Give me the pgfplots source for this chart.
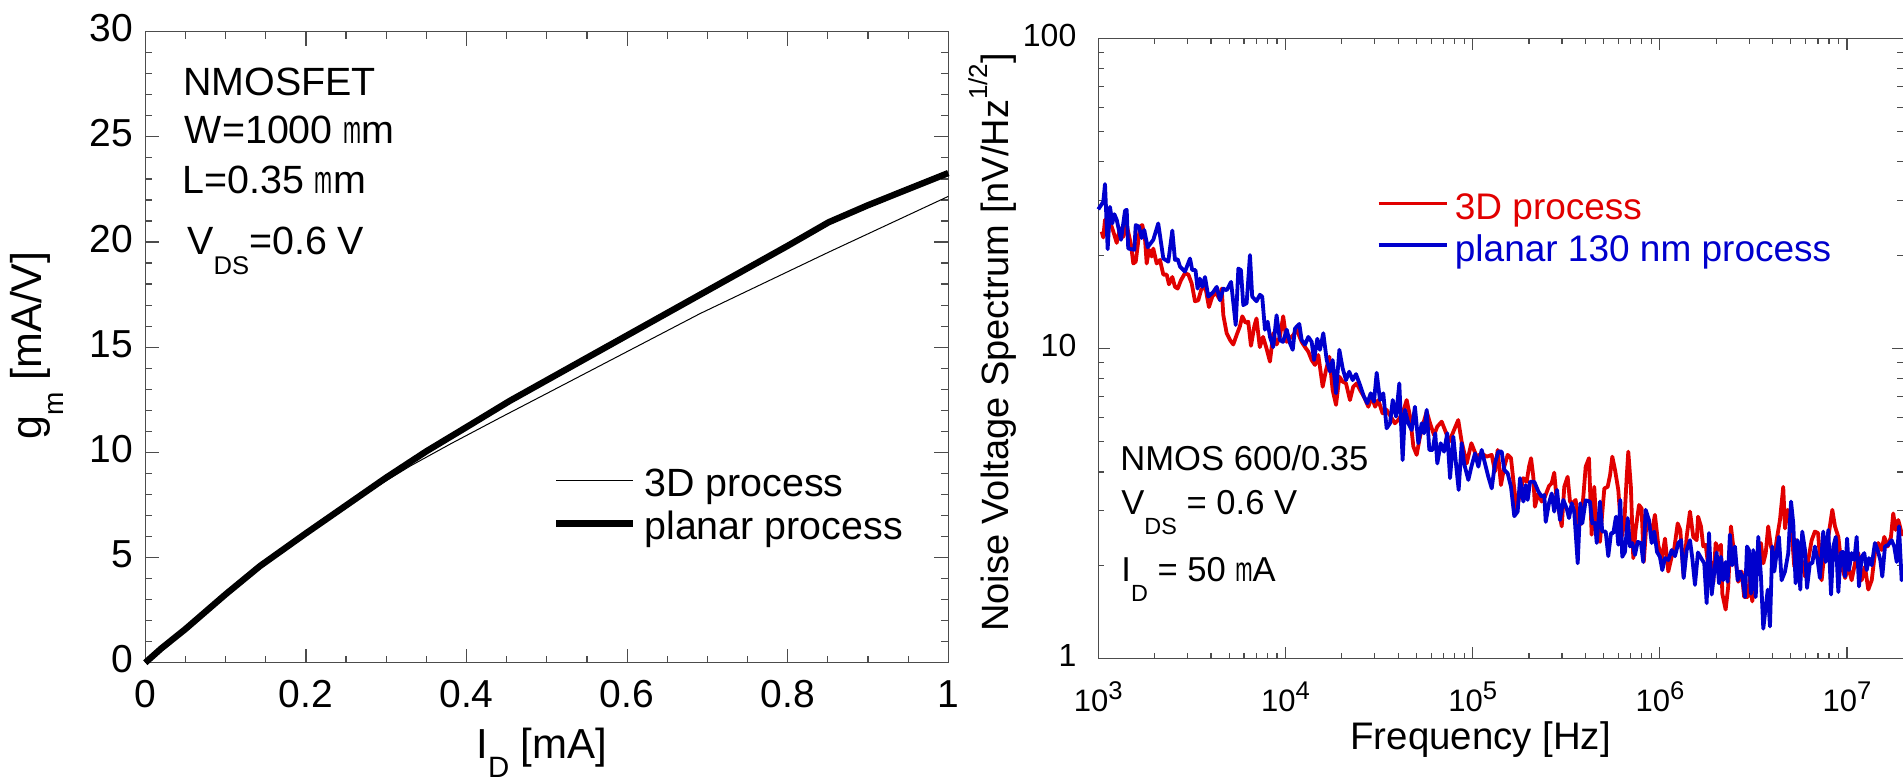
\documentclass[border=0pt]{standalone}
\usepackage{pgfplots}
\pgfplotsset{compat=1.18}
\usepackage{fontspec}
\setmainfont{Liberation Sans}
\usepackage{graphicx}
\definecolor{cred}{RGB}{225,0,0}
\definecolor{cblue}{RGB}{0,0,205}
\newcommand{\fs}[1]{\fontsize{#1}{#1}\selectfont}
\begin{document}
\begin{tikzpicture}
% ---------------- left panel ----------------
\begin{axis}[
  at={(72.65pt,59.15pt)}, anchor=south west,
  width=401.5pt, height=315.5pt, scale only axis,
  xmin=0, xmax=1, ymin=0, ymax=30, clip=false,
  xtick={0,0.2,0.4,0.6,0.8,1}, xticklabels={0,0.2,0.4,0.6,0.8,1},
  ytick={0,5,10,15,20,25,30}, yticklabels={0,5,10,15,20,25,30},
  minor x tick num=3, minor y tick num=4,
  tick align=inside, major tick length=7pt, minor tick length=3.5pt,
  axis line style={black!70, line width=0.65pt},
  every tick/.style={black!70, line width=0.6pt},
  xticklabel style={font=\fs{19.5}, inner sep=0pt, anchor=north, yshift=-8.6pt},
  yticklabel style={font=\fs{19.5}, inner sep=0pt, anchor=east, xshift=-6pt, yshift=1.7pt},
  legend style={at={(0.5077,0.245)}, anchor=west, draw=none, fill=none,
    inner sep=0pt, outer sep=0pt, font=\fs{19.7}, row sep=2.85pt, column sep=4pt,
    nodes={inner sep=0pt, text height=14.2pt, text depth=4.3pt}},
  legend cell align=left,
  legend image code/.code={\draw[#1] (0pt,3pt) -- (38.5pt,3pt);},
]
\addplot[black, line width=0.5pt, line join=round] coordinates {
(0,0) (0.05,1.57) (0.143,4.58) (0.234,7.02) (0.28,8.18) (0.33,9.35) (0.38,10.4) (0.442,11.65)
(0.5,12.8) (0.691,16.6) (0.85,19.5) (1,22.17)};
\addlegendentry{3D process}
\addplot[black, line width=3.2pt, line join=round] coordinates {
(0,0) (0.02,0.68) (0.05,1.6) (0.1,3.25) (0.143,4.6) (0.2,6.15) (0.234,7.05)
(0.3,8.8) (0.35,10.05) (0.4,11.2) (0.454,12.45) (0.6,15.56) (0.7,17.69)
(0.8,19.82) (0.851,20.94) (0.9,21.75) (1,23.28)};
\addlegendentry{planar process}
\end{axis}
% ---------------- right panel ----------------
\begin{axis}[
  at={(549.15pt,61.15pt)}, anchor=south west,
  width=402.55pt, height=310.2pt, scale only axis,
  xmode=log, ymode=log,
  xmin=1e3, xmax=2e7, ymin=1, ymax=100, clip=false,
  xtick={1e3,1e4,1e5,1e6,1e7},
  xticklabels={10\raisebox{5.85pt}{\fs{12.8}3},10\raisebox{5.85pt}{\fs{12.8}4},10\raisebox{5.85pt}{\fs{12.8}5},10\raisebox{5.85pt}{\fs{12.8}6},10\raisebox{5.85pt}{\fs{12.8}7}},
  minor xtick={2e3,3e3,4e3,5e3,6e3,7e3,8e3,9e3,2e4,3e4,4e4,5e4,6e4,7e4,8e4,9e4,2e5,3e5,4e5,5e5,6e5,7e5,8e5,9e5,2e6,3e6,4e6,5e6,6e6,7e6,8e6,9e6,2e7},
  ytick={1,10,100}, yticklabels={1,10,100},
  minor ytick={2,3,4,5,6,7,8,9,20,30,40,50,60,70,80,90},
  tick align=inside, major tick length=5.85pt, minor tick length=3pt,
  axis line style={black!70, line width=0.65pt},
  every tick/.style={black!70, line width=0.6pt},
  xticklabel style={font=\fs{15.5}, inner sep=0pt, anchor=north, yshift=-11.5pt},
  yticklabel style={font=\fs{16}, inner sep=0pt, anchor=east, xshift=-10.8pt, yshift=1.6pt},
  legend style={at={(0.3458,0.689)}, anchor=west, draw=none, fill=none,
    inner sep=0pt, outer sep=0pt, font=\fs{18.5}, row sep=3.45pt, column sep=3.2pt,
    nodes={inner sep=0pt, text height=13.3pt, text depth=4.1pt}},
  legend cell align=left,
  legend image code/.code={\draw[#1] (0pt,3.4pt) -- (34pt,3.4pt);},
]
\addplot[cred, line width=1.9pt, line join=round] coordinates {
(1043,23.8)(1063,22.8)(1086,26.0)(1122,25.0)(1155,25.6)(1203,23.8)(1254,21.9)(1306,24.4)(1360,22.9)(1418,25.0)
(1495,21.6)(1538,18.8)(1585,19.05)(1670,24.7)(1718,25.0)(1775,22.7)(1813,18.8)(1865,20.8)(1928,19.8)(1967,21.0)
(2050,18.8)(2135,19.3)(2225,17.3)(2320,17.3)(2385,16.1)(2485,17.0)(2568,15.8)(2655,15.6)(2765,16.6)(2905,17.5)
(3030,17.3)(3155,16.2)(3285,14.2)(3420,14.3)(3537,15.4)(3715,16.0)(3900,13.6)(4065,14.7)(4235,15.2)(4415,14.5)
(4560,15.6)(4655,12.8)(4850,11.2)(5055,10.65)(5260,10.3)(5480,11.05)(5710,11.8)(5875,12.7)(6125,12.1)(6325,12.2)
(6540,10.2)(6815,11.8)(7000,12.5)(7290,10.1)(7590,10.9)(7920,10.0)(8260,9.07)(8600,11.2)(8960,10.3)(9330,10.9)
(9720,12.7)(10150,10.5)(10570,10.8)(11010,11.05)(11480,11.5)(12200,10.5)(12720,10.1)(13240,9.77)(13800,9.18)(14370,8.85)
(14970,9.53)(15800,7.53)(16460,8.52)(17150,9.41)(17860,7.35)(18620,6.58)(19400,8.11)(20200,7.82)(21050,7.72)(22100,6.82)
(23000,7.53)(24000,7.72)(25000,7.35)(26260,6.99)(27700,6.49)(28900,6.99)(30100,6.49)(31300,6.82)(33000,6.18)(34700,6.34)
(36500,6.03)(38400,5.74)(40000,5.88)(42250,6.18)(44400,6.82)(46300,6.03)(48200,4.83)(50200,4.54)(52300,5.20)(54500,5.74)
(56800,6.26)(59200,5.74)(62100,5.26)(64700,5.60)(68300,5.81)(71100,5.46)(75000,5.01)(78800,5.39)(83700,5.88)(87300,5.01)
(92900,4.26)(98400,4.95)(105000,4.48)(111700,4.59)(118800,4.48)(126400,4.54)(131500,4.01)(136000,4.71)(141600,3.63)(147500,4.16)
(153800,4.54)(160200,4.43)(164800,3.77)(171800,3.02)(179000,3.41)(186500,3.82)(194300,3.72)(200000,4.16)(205000,4.43)(210800,3.86)
(215000,3.09)(224300,3.41)(233700,3.21)(243300,3.33)(255500,3.60)(264300,3.68)(272700,3.98)(281000,3.25)(292600,2.87)(299000,2.67)
(308500,3.58)(321600,3.86)(331000,3.21)(340300,3.17)(355000,3.25)(366500,2.67)(379000,2.73)(390000,3.33)(401500,4.16)(418000,4.43)
(432000,2.51)(446000,3.58)(460000,2.54)(478600,2.38)(492000,2.94)(505000,3.54)(526000,3.58)(542000,3.91)(557000,4.48)(576000,4.06)
(599600,3.50)(625000,2.47)(645500,2.73)(665000,3.86)(678000,4.65)(700000,3.58)(721000,2.11)(742000,2.60)(774000,3.13)(799000,3.05)
(820000,2.05)(850000,2.80)(874000,2.73)(904000,2.54)(941000,2.91)(980000,2.33)(1.022e6,2.08)(1.065e6,2.44)(1.109e6,1.91)(1.156e6,2.13)
(1.194e6,2.27)(1.245e6,2.73)(1.285e6,2.60)(1.34e6,1.84)(1.39e6,2.47)(1.448e6,2.98)(1.508e6,2.47)(1.573e6,2.41)(1.60e6,2.87)(1.658e6,2.67)
(1.705e6,2.30)(1.757e6,2.33)(1.814e6,1.98)(1.875e6,2.05)(1.928e6,1.75)(1.986e6,2.36)(2.05e6,2.24)(2.12e6,2.33)(2.155e6,1.62)(2.245e6,1.44)
(2.318e6,1.71)(2.397e6,2.67)(2.466e6,2.30)(2.54e6,2.08)(2.62e6,1.77)(2.735e6,1.91)(2.82e6,1.58)(2.945e6,1.58)(3.03e6,1.84)(3.115e6,1.53)
(3.225e6,1.79)(3.355e6,2.08)(3.467e6,2.36)(3.568e6,2.03)(3.677e6,2.19)(3.79e6,2.67)(3.92e6,2.30)(4.085e6,2.13)(4.205e6,2.41)(4.38e6,2.80)
(4.56e6,3.58)(4.66e6,2.63)(4.82e6,3.02)(5.02e6,2.73)(5.225e6,1.98)(5.38e6,2.41)(5.53e6,1.79)(5.72e6,2.08)(5.96e6,1.84)(6.2e6,2.08)
(6.47e6,2.41)(6.73e6,2.57)(7.0e6,2.54)(7.315e6,1.79)(7.62e6,2.30)(7.94e6,2.47)(8.34e6,3.02)(8.62e6,2.67)(8.98e6,2.47)(9.355e6,1.98)
(9.76e6,1.82)(1.015e7,1.98)(1.058e7,1.79)(1.102e7,2.03)(1.148e7,2.19)(1.197e7,1.79)(1.246e7,1.98)(1.298e7,1.67)(1.354e7,1.79)(1.409e7,2.19)
(1.468e7,2.36)(1.53e7,2.24)(1.58e7,2.47)(1.648e7,2.30)(1.716e7,2.47)(1.765e7,2.94)(1.818e7,2.60)(1.877e7,2.80)(1.957e7,2.54)(2.0e7,2.5)};
\addlegendentry{\textcolor{cred}{3D process}}
\addplot[cblue, line width=1.9pt, line join=round] coordinates {
(1000,28.1)(1063,29.7)(1086,33.9)(1122,20.9)(1155,28.6)(1188,25.3)(1218,27.1)(1254,26.0)(1322,22.4)(1389,27.8)
(1418,28.0)(1445,21.0)(1557,20.8)(1585,25.0)(1650,24.7)(1705,22.7)(1760,24.1)(1836,21.2)(1967,22.4)(2090,25.3)
(2225,19.5)(2365,19.05)(2485,24.0)(2568,19.3)(2655,19.4)(2733,18.35)(2905,17.7)(3090,19.5)(3175,17.9)(3305,17.9)
(3390,15.6)(3485,16.8)(3590,15.8)(3715,17.0)(3870,14.7)(4110,15.2)(4290,15.8)(4467,14.3)(4655,15.6)(4850,15.4)
(5120,16.4)(5420,11.9)(5600,18.1)(5780,17.9)(5950,13.8)(6200,14.0)(6460,20.0)(6640,14.7)(7000,14.2)(7300,14.9)
(7510,14.7)(7770,11.5)(8030,12.2)(8260,10.9)(8600,10.1)(8960,12.8)(9330,10.65)(9700,10.5)(10150,11.5)(10570,10.4)
(10930,9.9)(11240,11.6)(11850,12.0)(12200,10.65)(12720,10.3)(13240,10.9)(13800,10.5)(14200,9.18)(14790,10.75)(15280,9.9)
(15920,11.2)(16600,9.18)(17290,8.42)(17860,9.18)(18620,7.17)(19400,9.9)(20200,8.63)(21050,7.91)(21900,8.42)(22850,7.91)
(23800,8.27)(25000,7.63)(26260,6.99)(27350,6.66)(28530,7.17)(29700,6.74)(30700,8.35)(31970,6.82)(33300,7.17)(34700,5.53)
(36170,5.74)(37400,6.82)(38950,6.03)(40550,7.72)(42250,4.37)(43500,6.34)(45300,5.74)(47220,5.46)(49150,6.49)(51230,4.95)
(53400,5.74)(54950,5.33)(56800,6.34)(58660,4.71)(61150,4.71)(63100,5.33)(64700,4.26)(67450,4.95)(70300,4.65)(73150,5.33)
(75700,3.82)(78800,5.20)(81400,4.26)(84150,3.50)(87300,4.95)(89950,4.26)(94800,3.77)(98400,4.16)(102900,4.59)(107200,4.16)
(111700,4.71)(116300,4.26)(121200,3.86)(126400,3.54)(131500,4.26)(137000,4.65)(142900,4.65)(147500,4.06)(153800,3.96)(160200,3.58)
(166800,2.88)(173900,2.98)(179000,3.82)(186500,3.21)(192000,3.63)(196700,3.25)(202500,3.72)(213300,3.72)(224300,3.46)(233700,3.33)
(241300,3.37)(245500,2.76)(255500,3.17)(264300,3.41)(272700,2.98)(282300,3.50)(292600,2.80)(304800,3.25)(317800,3.05)(327000,2.84)
(338000,3.17)(348800,2.98)(364000,2.03)(375700,3.17)(385000,2.73)(401500,3.24)(423000,3.21)(435500,2.73)(450000,2.74)(460000,2.36)
(478600,3.21)(492000,2.57)(513400,2.57)(530000,2.14)(548000,2.54)(563700,2.54)(583000,2.87)(599600,2.33)(614500,3.25)(629500,2.13)
(651000,2.21)(673000,2.84)(692500,2.30)(712000,2.36)(736000,2.16)(761000,2.38)(792500,2.36)(815000,2.05)(839500,3.02)(874000,2.80)
(904000,2.36)(933300,2.57)(965000,2.21)(1.0e6,2.13)(1.03e6,1.93)(1.065e6,2.11)(1.109e6,2.08)(1.156e6,2.24)(1.204e6,2.14)(1.254e6,2.36)
(1.297e6,2.41)(1.34e6,1.82)(1.39e6,2.24)(1.448e6,2.41)(1.49e6,2.11)(1.54e6,1.73)(1.597e6,2.2)(1.684e6,2.08)(1.726e6,2.03)(1.778e6,1.51)
(1.83e6,2.54)(1.892e6,1.61)(1.953e6,1.91)(2.01e6,2.20)(2.07e6,1.75)(2.12e6,2.13)(2.18e6,1.79)(2.247e6,2.05)(2.3e6,1.77)(2.367e6,2.51)
(2.435e6,2.00)(2.518e6,2.30)(2.603e6,1.79)(2.68e6,1.91)(2.754e6,1.84)(2.85e6,1.58)(2.92e6,2.30)(2.99e6,2.24)(3.065e6,1.62)(3.155e6,2.24)
(3.25e6,1.58)(3.355e6,2.47)(3.467e6,1.84)(3.568e6,1.25)(3.677e6,1.47)(3.77e6,1.67)(3.875e6,1.27)(3.985e6,2.30)(4.085e6,1.91)(4.205e6,2.19)
(4.325e6,2.47)(4.47e6,1.79)(4.66e6,1.91)(4.85e6,2.19)(5.02e6,3.21)(5.16e6,2.73)(5.31e6,1.75)(5.44e6,2.41)(5.625e6,1.67)(5.76e6,2.57)
(5.96e6,2.24)(6.11e6,1.69)(6.33e6,2.03)(6.52e6,2.03)(6.73e6,2.30)(6.96e6,2.08)(7.16e6,1.82)(7.46e6,2.57)(7.69e6,2.05)(7.94e6,2.60)
(8.21e6,1.61)(8.445e6,2.30)(8.7e6,2.47)(8.98e6,1.64)(9.25e6,2.19)(9.48e6,2.21)(9.76e6,1.84)(1.0e7,2.44)(1.023e7,1.93)(1.058e7,2.19)
(1.093e7,2.08)(1.125e7,2.47)(1.158e7,1.71)(1.197e7,2.13)(1.236e7,2.19)(1.273e7,1.93)(1.309e7,2.11)(1.354e7,2.00)(1.409e7,2.36)(1.457e7,2.24)
(1.505e7,2.08)(1.542e7,1.84)(1.594e7,2.30)(1.66e7,2.33)(1.73e7,2.41)(1.786e7,2.30)(1.842e7,2.05)(1.894e7,2.67)(1.957e7,1.79)(2.0e7,1.9)};
\addlegendentry{\textcolor{cblue}{planar 130 nm process}}
\end{axis}
% ---------------- text (pixel coordinates) ----------------
\begin{scope}[x=0.5pt, y=-0.5pt, shift={(0pt,390.5pt)}]
  % left panel labels
  \node[rotate=90, anchor=base, inner sep=0pt, font=\fs{21.5}] at (41,345.5)
    {g\raisebox{-11pt}{\fs{14}m} [mA/V]};
  \node[anchor=base west, inner sep=0pt, font=\fs{21}] at (476,759)
    {I\raisebox{-9.5pt}{\fs{14.7}D} [mA]};
  \node[anchor=base west, inner sep=0pt, font=\fs{19.7}] at (183,95.7) {NMOSFET};
  \node[anchor=base west, inner sep=0pt, font=\fs{19.7}] at (184.5,143.3) {W=1000 \scalebox{0.55}[1]{m}m};
  \node[anchor=base west, inner sep=0pt, font=\fs{19.7}] at (182,193.3) {L=0.35 \scalebox{0.55}[1]{m}m};
  \node[anchor=base west, inner sep=0pt, font=\fs{19.7}] at (187,255)
    {V\raisebox{-10pt}{\fs{12.8}DS}=0.6 V};
  % right panel labels
  \node[rotate=90, anchor=base, inner sep=0pt, font=\fs{19}] at (1008,342.5)
    {Noise Voltage Spectrum [nV/Hz\raisebox{0.55em}{\fs{13}1/2}]};
  \node[anchor=base west, inner sep=0pt, font=\fs{19.2}] at (1350,750) {Frequency [Hz]};
  \node[anchor=base west, inner sep=0pt, font=\fs{17.3}] at (1120,470.7) {NMOS 600/0.35};
  \node[anchor=base west, inner sep=0pt, font=\fs{17.3}] at (1121,515)
    {V\raisebox{-10pt}{\fs{11.7}DS} = 0.6 V};
  \node[anchor=base west, inner sep=0pt, font=\fs{17.3}] at (1121,581.7)
    {I\raisebox{-10pt}{\fs{11.7}D} = 50 \scalebox{0.6}[1]{m}A};
\end{scope}
\pgfresetboundingbox
\path[use as bounding box] (0pt,0pt) rectangle (951.5pt,390.5pt);
\end{tikzpicture}
\end{document}
